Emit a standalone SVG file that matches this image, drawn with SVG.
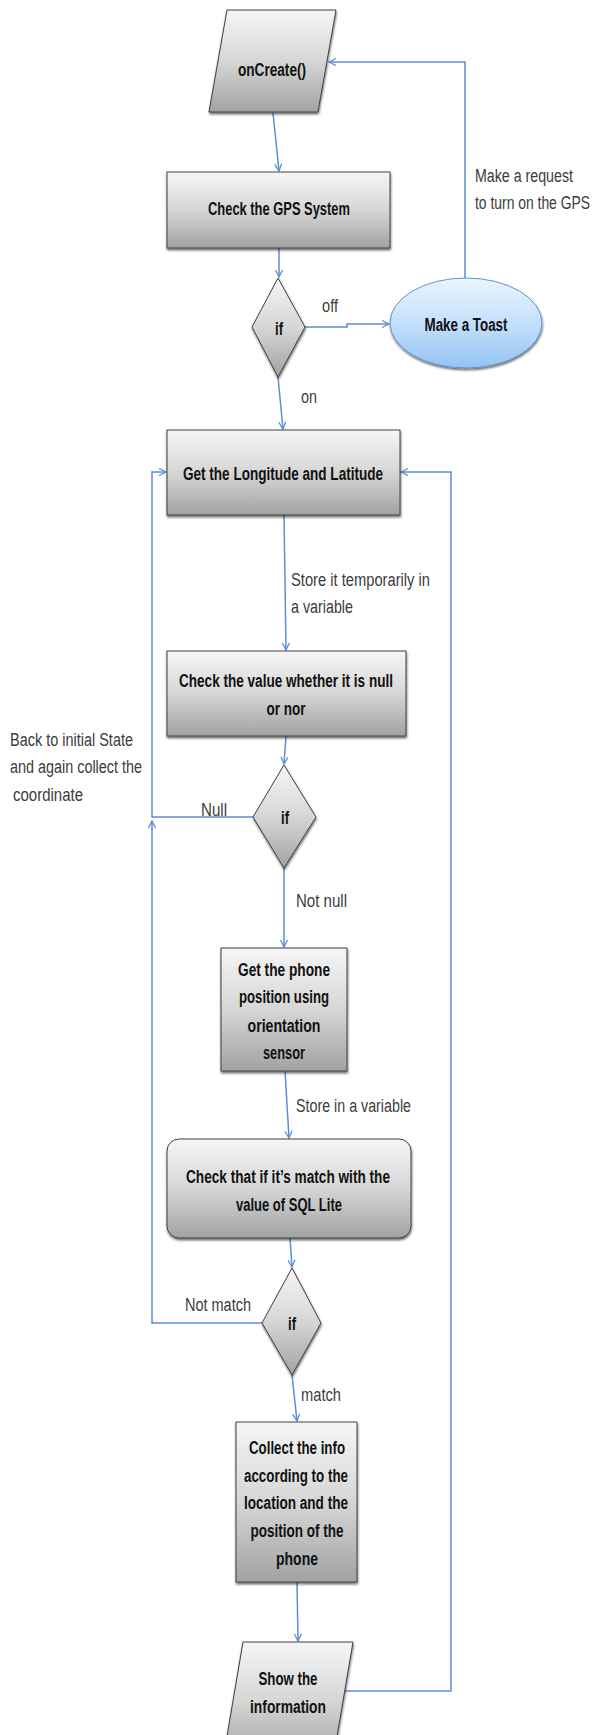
<svg xmlns="http://www.w3.org/2000/svg" width="595" height="1735" viewBox="0 0 595 1735">
<defs>
<linearGradient id="gray" x1="0" y1="0" x2="0" y2="1">
<stop offset="0" stop-color="#f6f6f6"/>
<stop offset="0.5" stop-color="#d6d6d6"/>
<stop offset="1" stop-color="#a2a2a2"/>
</linearGradient>
<linearGradient id="blue" x1="0" y1="0" x2="0" y2="1">
<stop offset="0" stop-color="#eaf5ff"/>
<stop offset="0.5" stop-color="#c4e0fb"/>
<stop offset="1" stop-color="#94c3f2"/>
</linearGradient>
<filter id="sh" x="-10%" y="-10%" width="130%" height="130%">
<feDropShadow dx="0.5" dy="2" stdDeviation="0.8" flood-color="#000" flood-opacity="0.55"/>
</filter>
<marker id="arr" markerWidth="10" markerHeight="10" refX="8" refY="4" orient="auto" markerUnits="userSpaceOnUse">
<path d="M1,0.5 L8,4 L1,7.5" fill="none" stroke="#5b8ed6" stroke-width="1.3"/>
</marker>
<style>
.node{fill:url(#gray);stroke:#404040;stroke-width:1;filter:url(#sh)}
.t{font-family:"Liberation Sans",Arial,sans-serif;font-size:18px;font-weight:bold;fill:#111;text-anchor:middle}
.l{font-family:"Liberation Sans",Arial,sans-serif;font-size:18px;fill:#3c3c3c}
.c{fill:none;stroke:#5b8ed6;stroke-width:1.5}
</style>
</defs>

<g id="connectors">
<path class="c" d="M273,113 L279,171" marker-end="url(#arr)"/>
<path class="c" d="M279,248 L279,277" marker-end="url(#arr)"/>
<path class="c" d="M305,327 H347 V324 H389" marker-end="url(#arr)"/>
<path class="c" d="M465,278 V62 H329" marker-end="url(#arr)"/>
<path class="c" d="M278,377 L283,429" marker-end="url(#arr)"/>
<path class="c" d="M284,515 L286,650" marker-end="url(#arr)"/>
<path class="c" d="M286,736 L284,764" marker-end="url(#arr)"/>
<path class="c" d="M253,817 H152 V472 H166" marker-end="url(#arr)"/>
<path class="c" d="M262,1323 H152 V821" marker-end="url(#arr)"/>
<path class="c" d="M284,868 L284,947" marker-end="url(#arr)"/>
<path class="c" d="M285,1071 L289,1138" marker-end="url(#arr)"/>
<path class="c" d="M290,1238 L292,1267" marker-end="url(#arr)"/>
<path class="c" d="M292,1375 L297,1421" marker-end="url(#arr)"/>
<path class="c" d="M297,1582 L298,1641" marker-end="url(#arr)"/>
<path class="c" d="M345,1691 H451 V472 H401" marker-end="url(#arr)"/>
</g>

<g id="labels">
<text class="l" x="475" y="182" textLength="98" lengthAdjust="spacingAndGlyphs">Make a request</text>
<text class="l" x="475" y="209" textLength="115" lengthAdjust="spacingAndGlyphs">to turn on the GPS</text>
<text class="l" x="322" y="312" textLength="16" lengthAdjust="spacingAndGlyphs">off</text>
<text class="l" x="301" y="403" textLength="16" lengthAdjust="spacingAndGlyphs">on</text>
<text class="l" x="291" y="586" textLength="139" lengthAdjust="spacingAndGlyphs">Store it temporarily in</text>
<text class="l" x="291" y="613" textLength="62" lengthAdjust="spacingAndGlyphs">a variable</text>
<text class="l" x="10" y="746" textLength="123" lengthAdjust="spacingAndGlyphs">Back to initial State</text>
<text class="l" x="10" y="773" textLength="132" lengthAdjust="spacingAndGlyphs">and again collect the</text>
<text class="l" x="13" y="801" textLength="70" lengthAdjust="spacingAndGlyphs">coordinate</text>
<text class="l" x="201" y="816" textLength="26" lengthAdjust="spacingAndGlyphs">Null</text>
<text class="l" x="296" y="907" textLength="51" lengthAdjust="spacingAndGlyphs">Not null</text>
<text class="l" x="296" y="1112" textLength="115" lengthAdjust="spacingAndGlyphs">Store in a variable</text>
<text class="l" x="185" y="1311" textLength="66" lengthAdjust="spacingAndGlyphs">Not match</text>
<text class="l" x="301" y="1401" textLength="40" lengthAdjust="spacingAndGlyphs">match</text>
</g>

<g id="onCreate">
<polygon class="node" points="227,10 336,10 318,112 209,112"/>
<text class="t" x="272" y="76" textLength="68" lengthAdjust="spacingAndGlyphs">onCreate()</text>
</g>

<g id="checkGPS">
<rect class="node" x="167" y="172" width="223" height="76"/>
<text class="t" x="279" y="215" textLength="142" lengthAdjust="spacingAndGlyphs">Check the GPS System</text>
</g>

<g id="if1">
<polygon class="node" points="278,278 305,327 278,377 252,327"/>
<text class="t" x="279" y="335" textLength="8" lengthAdjust="spacingAndGlyphs">if</text>
</g>

<g id="toast">
<ellipse cx="466" cy="323" rx="76" ry="45" fill="url(#blue)" stroke="#5f94d2" stroke-width="1" filter="url(#sh)"/>
<text class="t" x="466" y="331" textLength="83" lengthAdjust="spacingAndGlyphs">Make a Toast</text>
</g>

<g id="getLongLat">
<rect class="node" x="167" y="430" width="233" height="85"/>
<text class="t" x="283" y="480" textLength="200" lengthAdjust="spacingAndGlyphs">Get the Longitude and Latitude</text>
</g>

<g id="checkNull">
<rect class="node" x="167" y="651" width="239" height="85"/>
<text class="t" x="286" y="687" textLength="214" lengthAdjust="spacingAndGlyphs">Check the value whether it is null</text>
<text class="t" x="286" y="715" textLength="39" lengthAdjust="spacingAndGlyphs">or nor</text>
</g>

<g id="if2">
<polygon class="node" points="284,765 316,817 284,868 253,817"/>
<text class="t" x="285" y="824" textLength="8" lengthAdjust="spacingAndGlyphs">if</text>
</g>

<g id="phonePos">
<rect class="node" x="221" y="948" width="126" height="123"/>
<text class="t" x="284" y="976" textLength="92" lengthAdjust="spacingAndGlyphs">Get the phone</text>
<text class="t" x="284" y="1003" textLength="90" lengthAdjust="spacingAndGlyphs">position using</text>
<text class="t" x="284" y="1032" textLength="73" lengthAdjust="spacingAndGlyphs">orientation</text>
<text class="t" x="284" y="1059" textLength="42" lengthAdjust="spacingAndGlyphs">sensor</text>
</g>

<g id="checkSQL">
<rect class="node" x="167" y="1139" width="244" height="99" rx="12" ry="12"/>
<text class="t" x="288" y="1183" textLength="204" lengthAdjust="spacingAndGlyphs">Check that if it’s match with the</text>
<text class="t" x="289" y="1211" textLength="106" lengthAdjust="spacingAndGlyphs">value of SQL Lite</text>
</g>

<g id="if3">
<polygon class="node" points="292,1268 321,1323 292,1375 262,1323"/>
<text class="t" x="292" y="1330" textLength="8" lengthAdjust="spacingAndGlyphs">if</text>
</g>

<g id="collect">
<rect class="node" x="236" y="1422" width="121" height="160"/>
<text class="t" x="297" y="1454" textLength="96" lengthAdjust="spacingAndGlyphs">Collect the info</text>
<text class="t" x="296" y="1482" textLength="104" lengthAdjust="spacingAndGlyphs">according to the</text>
<text class="t" x="296" y="1509" textLength="104" lengthAdjust="spacingAndGlyphs">location and the</text>
<text class="t" x="297" y="1537" textLength="93" lengthAdjust="spacingAndGlyphs">position of the</text>
<text class="t" x="297" y="1565" textLength="42" lengthAdjust="spacingAndGlyphs">phone</text>
</g>

<g id="showInfo">
<polygon class="node" points="243,1642 353,1642 333,1760 223,1760"/>
<text class="t" x="288" y="1685" textLength="59" lengthAdjust="spacingAndGlyphs">Show the</text>
<text class="t" x="288" y="1713" textLength="76" lengthAdjust="spacingAndGlyphs">information</text>
</g>
</svg>
